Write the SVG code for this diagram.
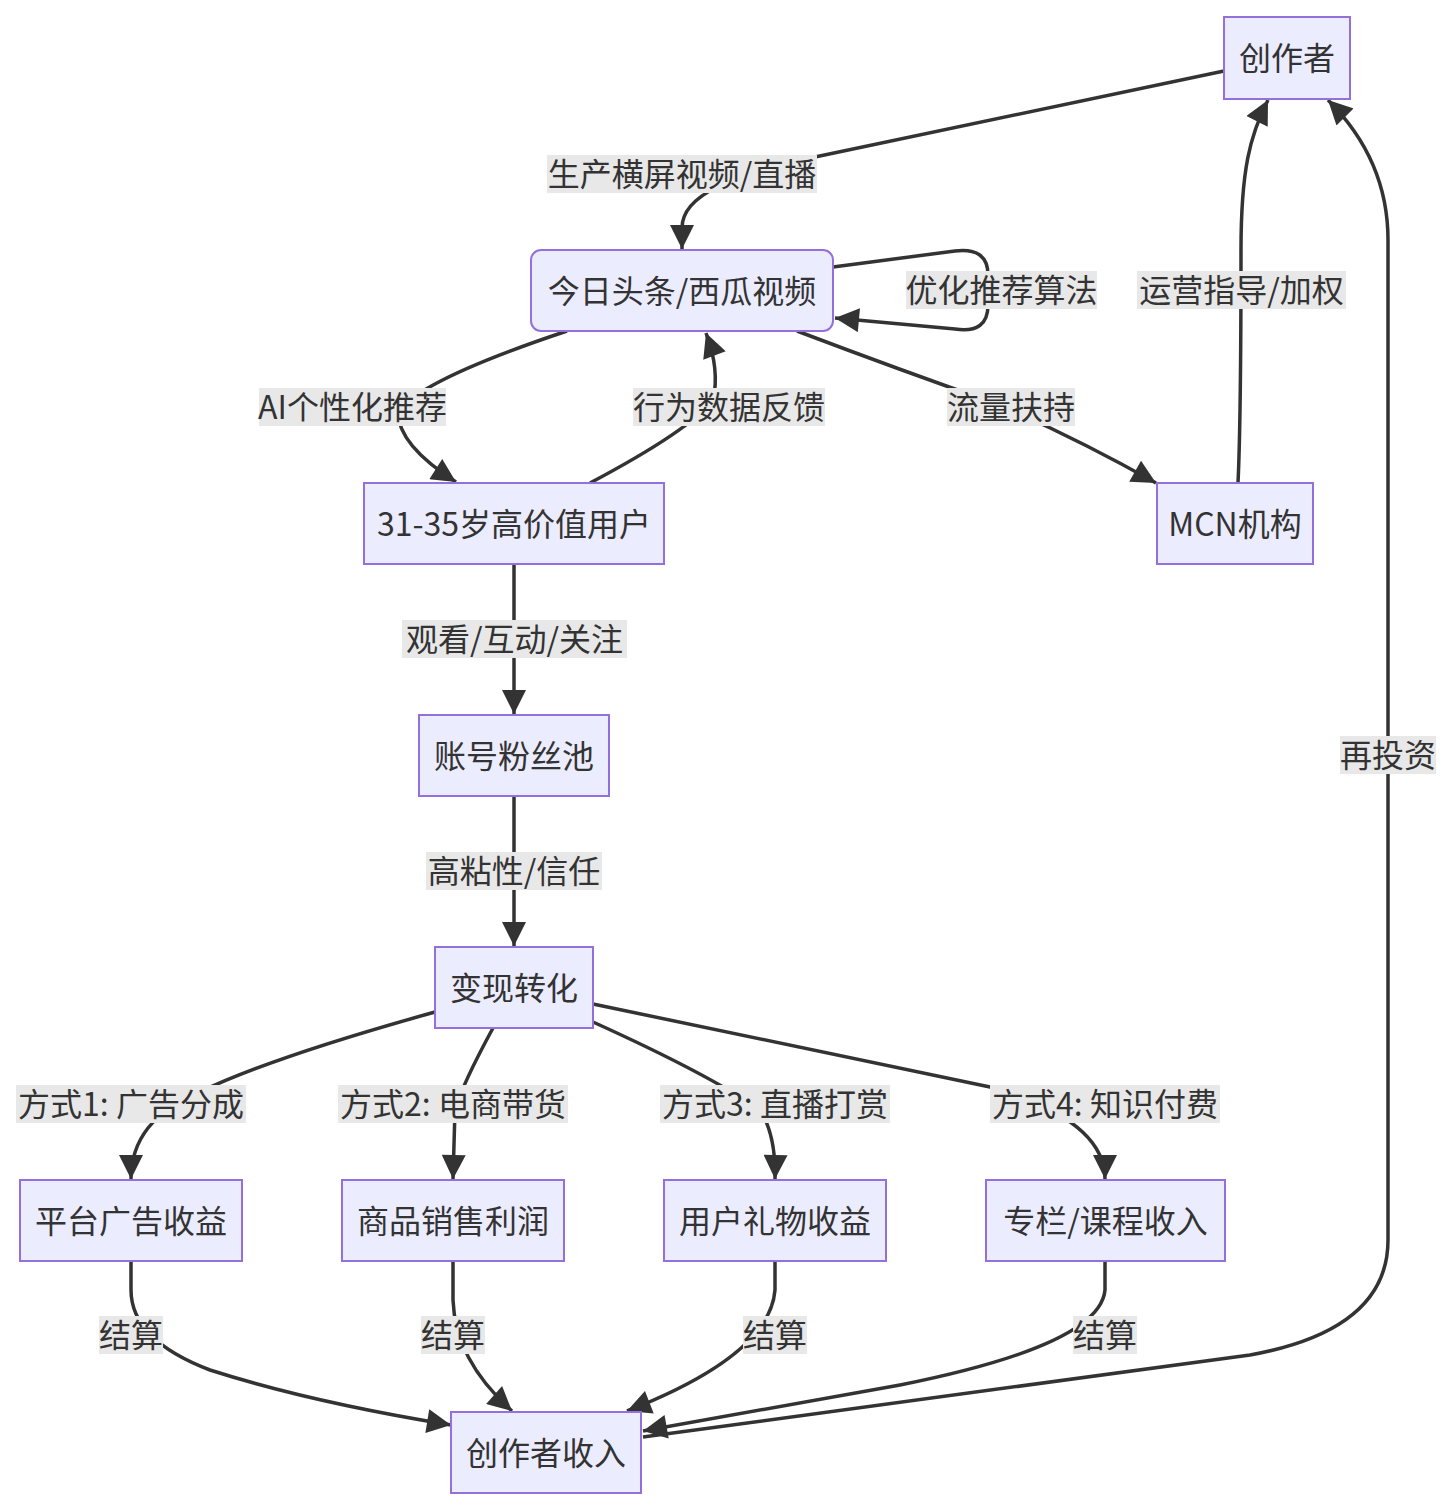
<svg xmlns="http://www.w3.org/2000/svg" width="1452" height="1510" viewBox="0 0 1452 1510">
<style>
.node rect{fill:#ECECFF;stroke:#9370DB;stroke-width:2}
text{font-family:"Noto Sans CJK SC","Noto Sans",sans-serif;font-size:32px;fill:#333;text-anchor:middle;dominant-baseline:central}
.edges path{fill:none;stroke:#333;stroke-width:3.5}
.lbl rect{fill:#e8e8e8}
</style>
<defs>
<marker id="arr" viewBox="0 0 10 10" refX="10" refY="5" markerUnits="userSpaceOnUse" markerWidth="25" markerHeight="24" orient="auto">
<path d="M0,0 L10,5 L0,10 z" fill="#333"/>
</marker>
</defs>
<rect width="1452" height="1510" fill="#fff"/>
<g class="edges">
<path d="M1224,71 L815,157 C730,176 682,195 682,228 L682,249" marker-end="url(#arr)"/>
<path d="M833,267 L955,251 Q988,247 988,275 L988,305 Q988,334 955,329 L835,318" marker-end="url(#arr)"/>
<path d="M567,331 Q420,380 398,412 Q398,445 456,482" marker-end="url(#arr)"/>
<path d="M590,483 Q690,430 713,400 Q720,370 706,333" marker-end="url(#arr)"/>
<path d="M797,331 Q900,370 1000,405 Q1080,440 1156,483" marker-end="url(#arr)"/>
<path d="M1238,483 C1241,420 1241,330 1241,250 C1241,170 1250,135 1268,100" marker-end="url(#arr)"/>
<path d="M643,1437 L1250,1355 Q1388,1330 1388,1240 L1388,240 Q1388,160 1328,100" marker-end="url(#arr)"/>
<path d="M514,564 L514,714" marker-end="url(#arr)"/>
<path d="M514,796 L514,946" marker-end="url(#arr)"/>
<path d="M435,1012 Q270,1058 200,1092 Q131,1120 131,1179" marker-end="url(#arr)"/>
<path d="M493,1028 Q462,1085 455,1110 L453,1179" marker-end="url(#arr)"/>
<path d="M593,1022 Q710,1075 760,1110 Q776,1135 775,1179" marker-end="url(#arr)"/>
<path d="M593,1004 L990,1087 Q1105,1120 1105,1179" marker-end="url(#arr)"/>
<path d="M131,1261 L131,1290 Q131,1340 210,1370 Q310,1402 451,1425" marker-end="url(#arr)"/>
<path d="M453,1261 L453,1300 Q455,1360 512,1411" marker-end="url(#arr)"/>
<path d="M775,1261 L775,1290 Q770,1355 627,1411" marker-end="url(#arr)"/>
<path d="M1105,1261 L1105,1290 Q1100,1345 900,1385 L643,1431" marker-end="url(#arr)"/>
</g>
<g class="lbl">
<rect x="547" y="155" width="270" height="38"/><text x="682" y="172">生产横屏视频/直播</text>
<rect x="906" y="271" width="191" height="38"/><text x="1001.5" y="288">优化推荐算法</text>
<rect x="1137" y="271" width="209" height="38"/><text x="1241.5" y="288">运营指导/加权</text>
<rect x="259" y="388" width="187" height="38"/><text x="352.5" y="405">AI个性化推荐</text>
<rect x="633" y="388" width="192" height="38"/><text x="729" y="405">行为数据反馈</text>
<rect x="947" y="388" width="128" height="38"/><text x="1011" y="405">流量扶持</text>
<rect x="402" y="620" width="225" height="38"/><text x="514.5" y="637">观看/互动/关注</text>
<rect x="426" y="852" width="176" height="38"/><text x="514" y="869">高粘性/信任</text>
<rect x="1340" y="736" width="96" height="38"/><text x="1388" y="753">再投资</text>
<rect x="16" y="1085" width="230" height="38"/><text x="131" y="1102">方式1: 广告分成</text>
<rect x="338" y="1085" width="230" height="38"/><text x="453" y="1102">方式2: 电商带货</text>
<rect x="660" y="1085" width="230" height="38"/><text x="775" y="1102">方式3: 直播打赏</text>
<rect x="990" y="1085" width="230" height="38"/><text x="1105" y="1102">方式4: 知识付费</text>
<rect x="99" y="1316" width="64" height="38"/><text x="131" y="1333">结算</text>
<rect x="421" y="1316" width="64" height="38"/><text x="453" y="1333">结算</text>
<rect x="743" y="1316" width="64" height="38"/><text x="775" y="1333">结算</text>
<rect x="1073" y="1316" width="64" height="38"/><text x="1105" y="1333">结算</text>
</g>
<g id="creator" class="node"><rect x="1224" y="17" width="126" height="82"/><text x="1287" y="56">创作者</text></g>
<g id="platform" class="node"><rect x="531" y="250" width="302" height="81" rx="10" ry="10"/><text x="682" y="288.5">今日头条/西瓜视频</text></g>
<g id="users" class="node"><rect x="364" y="483" width="300" height="81"/><text x="514" y="521.5">31-35岁高价值用户</text></g>
<g id="mcn" class="node"><rect x="1157" y="483" width="156" height="81"/><text x="1235" y="521.5">MCN机构</text></g>
<g id="fans" class="node"><rect x="419" y="715" width="190" height="81"/><text x="514" y="753.5">账号粉丝池</text></g>
<g id="monetize" class="node"><rect x="435" y="947" width="158" height="81"/><text x="514" y="985.5">变现转化</text></g>
<g id="ads" class="node"><rect x="20" y="1180" width="222" height="81"/><text x="131" y="1218.5">平台广告收益</text></g>
<g id="ecom" class="node"><rect x="342" y="1180" width="222" height="81"/><text x="453" y="1218.5">商品销售利润</text></g>
<g id="gift" class="node"><rect x="664" y="1180" width="222" height="81"/><text x="775" y="1218.5">用户礼物收益</text></g>
<g id="course" class="node"><rect x="986" y="1180" width="239" height="81"/><text x="1105.5" y="1218.5">专栏/课程收入</text></g>
<g id="income" class="node"><rect x="451" y="1412" width="190" height="81"/><text x="546" y="1450.5">创作者收入</text></g>
</svg>
